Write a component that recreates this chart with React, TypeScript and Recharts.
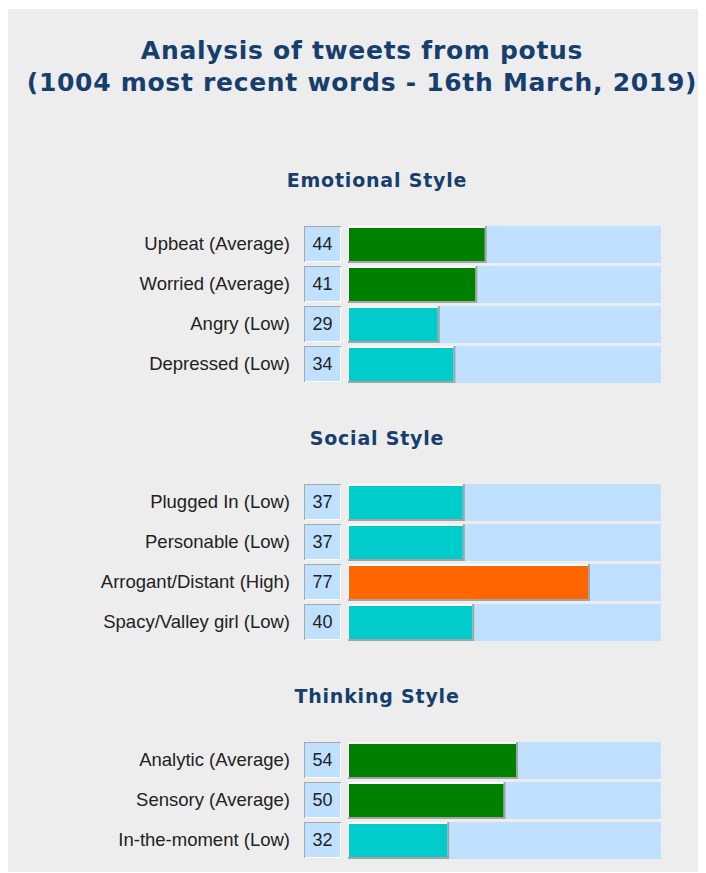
import React from 'react';
import { BarChart, Bar, XAxis, YAxis } from 'recharts';

const emotionalLabels = ['Upbeat', 'Worried', 'Angry', 'Depressed'];
const emotionalLevels = ['Average', 'Average', 'Low', 'Low'];
const emotionalValues = [44, 41, 29, 34];

const socialLabels = ['Plugged In', 'Personable', 'Arrogant/Distant', 'Spacy/Valley girl'];
const socialLevels = ['Low', 'Low', 'High', 'Low'];
const socialValues = [37, 37, 77, 40];

const thinkingLabels = ['Analytic', 'Sensory', 'In-the-moment'];
const thinkingLevels = ['Average', 'Average', 'Low'];
const thinkingValues = [54, 50, 32];

const levelColors: Record<string, string> = {
  Low: '#00cccc',
  Average: '#008000',
  High: '#ff6600',
};

const PANEL_W = 698;
const PANEL_H = 863;
const ROW_H = 40;
const AXIS_W = 340;
const RIGHT = 45;
const TITLE_COLOR = '#173f6e';
const TEXT_COLOR = '#222';
const TRACK = '#c0e0ff';
const LABEL_FONT = "'Liberation Sans', Arial, sans-serif";

const buildRows = (labels: string[], levels: string[], values: number[]) =>
  labels.map((l, i) => ({
    name: `${l} (${levels[i]})`,
    value: values[i],
    color: levelColors[levels[i]],
  }));

const BevelBar = (props: any) => {
  const { x, y, width, height, payload } = props;
  if (!width || width <= 0) return null;
  return (
    <g>
      <rect x={x} y={y} width={width + 1} height={height} fill="#a4a4a4" />
      <rect x={x} y={y} width={width - 1} height={height - 2} fill="#ffffff" />
      <rect x={x + 1} y={y + 2} width={width - 2} height={height - 4} fill={payload.color} />
    </g>
  );
};

const makeTick = (rows: { name: string; value: number }[]) => (props: any) => {
  const { y, payload, index } = props;
  const row = rows[index] ?? rows.find((r) => r.name === payload.value);
  return (
    <g>
      <text
        x={282}
        y={y - 0.5}
        textAnchor="end"
        dominantBaseline="central"
        fontFamily={LABEL_FONT}
        fontSize={18.5}
        fill={TEXT_COLOR}
      >
        {payload.value}
      </text>
      <rect x={296} y={y - 18} width={37} height={36} fill="#a8a8a8" />
      <rect x={297} y={y - 17} width={36} height={35} fill="#ffffff" />
      <rect x={297} y={y - 17} width={35} height={34} fill={TRACK} />
      <text
        x={314.5}
        y={y - 0.5}
        textAnchor="middle"
        dominantBaseline="central"
        fontFamily={LABEL_FONT}
        fontSize={18}
        fill={TEXT_COLOR}
      >
        {row ? row.value : ''}
      </text>
    </g>
  );
};

const Section: React.FC<{ rows: { name: string; value: number; color: string }[]; top: number }> = ({
  rows,
  top,
}) => (
  <div style={{ position: 'absolute', left: 0, top }}>
    <BarChart
      layout="vertical"
      width={PANEL_W}
      height={rows.length * ROW_H}
      data={rows}
      margin={{ top: 0, right: RIGHT, bottom: 0, left: 0 }}
      barCategoryGap={2}
    >
      <XAxis type="number" domain={[0, 100]} hide />
      <YAxis
        type="category"
        dataKey="name"
        width={AXIS_W}
        axisLine={false}
        tickLine={false}
        interval={0}
        tick={makeTick(rows)}
      />
      <Bar
        dataKey="value"
        barSize={37}
        background={{ fill: TRACK }}
        shape={BevelBar}
        isAnimationActive={false}
      />
    </BarChart>
  </div>
);

const sectionTitle = (text: string, top: number) => (
  <div
    style={{
      position: 'absolute',
      left: 169,
      width: 400,
      top,
      textAlign: 'center',
      fontFamily: "'DejaVu Sans', Verdana, sans-serif",
      fontWeight: 'bold',
      fontSize: 19,
      letterSpacing: 0.8,
      lineHeight: '24px',
      color: TITLE_COLOR,
    }}
  >
    {text}
  </div>
);

export default function App() {
  const emotional = buildRows(emotionalLabels, emotionalLevels, emotionalValues);
  const social = buildRows(socialLabels, socialLevels, socialValues);
  const thinking = buildRows(thinkingLabels, thinkingLevels, thinkingValues);

  return (
    <div
      style={{
        position: 'relative',
        width: PANEL_W,
        height: PANEL_H,
        marginTop: 1,
        background: '#ededed',
      }}
    >
      <div
        style={{
          position: 'absolute',
          left: 10,
          width: 688,
          top: 26,
          textAlign: 'center',
          fontFamily: "'DejaVu Sans', Verdana, sans-serif",
          fontWeight: 'bold',
          fontSize: 25,
          letterSpacing: 0.7,
          lineHeight: '32px',
          color: TITLE_COLOR,
        }}
      >
        Analysis of tweets from potus
        <br />
        (1004 most recent words - 16th March, 2019)
      </div>
      {sectionTitle('Emotional Style', 159)}
      <Section rows={emotional} top={215} />
      {sectionTitle('Social Style', 417)}
      <Section rows={social} top={473} />
      {sectionTitle('Thinking Style', 675)}
      <Section rows={thinking} top={731} />
    </div>
  );
}
